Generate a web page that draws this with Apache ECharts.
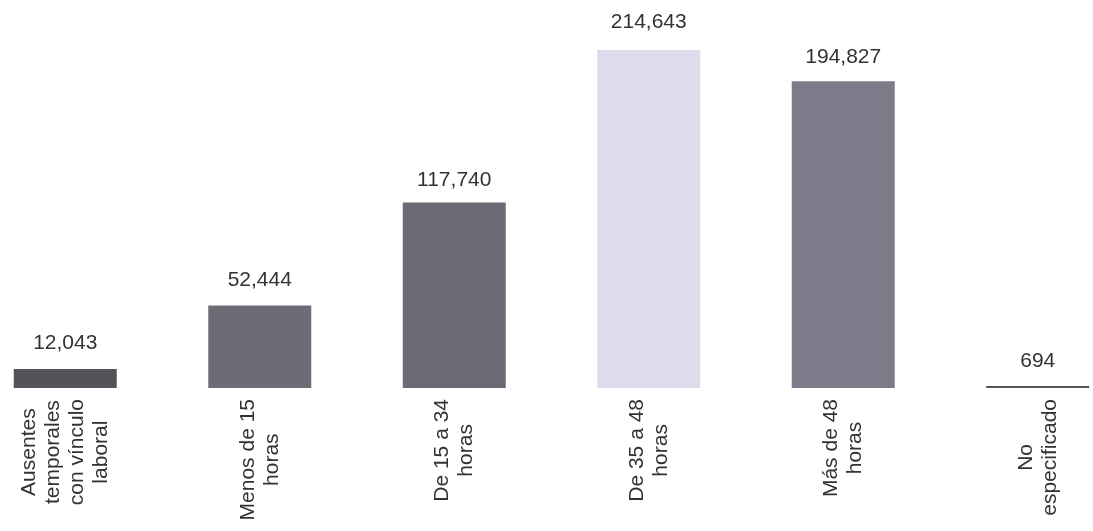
<!DOCTYPE html>
<html>
<head>
<meta charset="utf-8">
<script src="https://cdn.jsdelivr.net/npm/echarts@6/dist/echarts.min.js"></script>
<style>
html,body{margin:0;padding:0;background:#fff;}
#c{width:1093px;height:531px;}
</style>
</head>
<body>
<div id="c"></div>
<script>
var categories = [
  "Ausentes\ntemporales\ncon vínculo\nlaboral",
  "Menos de 15\nhoras",
  "De 15 a 34\nhoras",
  "De 35 a 48\nhoras",
  "Más de 48\nhoras",
  "No\nespecificado"
];
var values = [12043, 52444, 117740, 214643, 194827, 694];
var barColors = ["#535359", "#6c6c77", "#6b6b76", "#dcdcec", "#7b7b89", "#555555"];
var labelDistances = [15, 15, 12, 17, 13, 14];

var chart = echarts.init(document.getElementById('c'), null, {renderer: 'canvas'});

function richLabel(v) {
  return v.split('\n').map(function (l) { return '{c|' + l + '}'; }).join('\n');
}

chart.setOption({
  animation: false,
  backgroundColor: '#ffffff',
  grid: {
    left: -32, right: -42, top: 41.5, bottom: 143,
    containLabel: false, outerBoundsMode: 'none'
  },
  xAxis: {
    type: 'category',
    data: categories,
    axisLine: {show: false},
    axisTick: {show: false},
    axisLabel: {
      interval: 0,
      rotate: 90,
      margin: 11,
      color: '#333333',
      fontFamily: 'Liberation Sans, Arial, sans-serif',
      fontSize: 21,
      lineHeight: 24,
      formatter: richLabel,
      rich: {
        c: {
          align: 'center',
          color: '#333333',
          fontFamily: 'Liberation Sans, Arial, sans-serif',
          fontSize: 21,
          lineHeight: 24
        }
      }
    }
  },
  yAxis: {
    type: 'value',
    min: 0,
    max: 220000,
    show: false,
    splitLine: {show: false}
  },
  series: [{
    type: 'bar',
    barWidth: 103,
    barMinHeight: 2,
    data: values.map(function (v, i) {
      return {
        value: v,
        itemStyle: {color: barColors[i]},
        label: {distance: labelDistances[i]}
      };
    }),
    label: {
      show: true,
      position: 'top',
      color: '#333333',
      fontFamily: 'Liberation Sans, Arial, sans-serif',
      fontSize: 21,
      formatter: function (p) { return p.value.toLocaleString('en-US'); }
    }
  }]
});
</script>
</body>
</html>
